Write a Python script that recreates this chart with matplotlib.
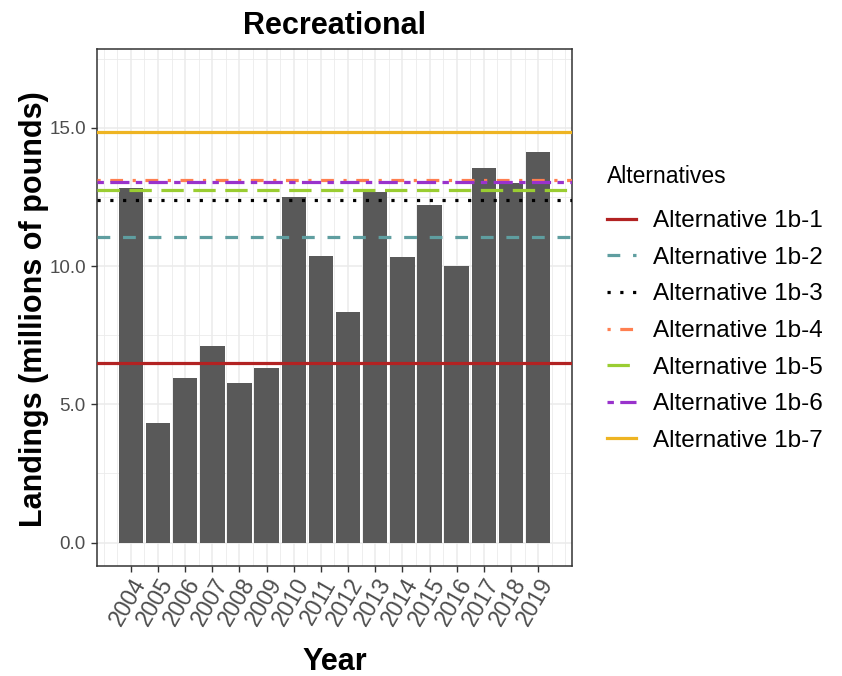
import matplotlib
matplotlib.use("Agg")
import matplotlib.pyplot as plt
import numpy as np

plt.rcParams['font.family'] = ['Liberation Sans', 'DejaVu Sans']

years = [2004, 2005, 2006, 2007, 2008, 2009, 2010, 2011, 2012, 2013, 2014, 2015, 2016, 2017, 2018, 2019]
landings = [12.83, 4.32, 5.95, 7.12, 5.78, 6.30, 12.51, 10.35, 8.33, 12.68, 10.31, 12.21, 10.01, 13.53, 13.01, 14.12]

alt_names = ["Alternative 1b-1", "Alternative 1b-2", "Alternative 1b-3", "Alternative 1b-4",
             "Alternative 1b-5", "Alternative 1b-6", "Alternative 1b-7"]
alt_values = [6.49, 11.06, 12.40, 13.10, 12.75, 13.04, 14.83]
alt_colors = ["#B22222", "#5F9EA0", "#000000", "#FF7F50", "#9ACD32", "#9932CC", "#EEB422"]
alt_styles = ["-", (0, (4, 4)), (0, (1, 3)), (0, (1, 3, 4, 3)), (0, (7, 3)), (0, (2, 2, 6, 2)), "-"]

y_ticks = [0, 5, 10, 15]
y_tick_labels = ["0.0", "5.0", "10.0", "15.0"]

W, H = 842, 676
fig = plt.figure(figsize=(W / 100, H / 100), dpi=100)
ax = fig.add_axes([97 / W, 1 - 566 / H, (572 - 97) / W, (566 - 49) / H])

ax.set_xlim(2002.755, 2020.245)
ax.set_ylim(-0.85, 17.85)

# grid
for xv in np.arange(2003, 2020.01, 0.5):
    major = float(xv).is_integer() and 2004 <= xv <= 2019
    ax.axvline(xv, color="#EBEBEB", lw=1.1 if major else 0.6, zorder=0)
for yv in [0, 2.5, 5, 7.5, 10, 12.5, 15, 17.5]:
    major = yv in y_ticks
    ax.axhline(yv, color="#EBEBEB", lw=1.1 if major else 0.6, zorder=0)

ax.bar(years, landings, width=0.9, color="#595959", zorder=2)

lw = 2.3
for name, v, c, s in zip(alt_names, alt_values, alt_colors, alt_styles):
    ax.axhline(v, color=c, linestyle=s, lw=lw, label=name, zorder=3)

ax.set_xticks(years)
ax.set_xticklabels([str(y) for y in years], rotation=60, ha="right", va="top",
                   rotation_mode="anchor", fontsize=16.5, color="#4D4D4D")
ax.set_yticks(y_ticks)
ax.set_yticklabels(y_tick_labels, fontsize=13.5, color="#4D4D4D")
ax.tick_params(axis="both", length=4, width=1, color="#333333")
ax.tick_params(axis="x", pad=2)
ax.tick_params(axis="y", pad=4)

for sp in ax.spines.values():
    sp.set_color("#333333")
    sp.set_linewidth(1.1)

ax.set_title("Recreational", fontsize=22, fontweight="bold", pad=11)
ax.set_xlabel("Year", fontsize=22, fontweight="bold")
ax.set_ylabel("Landings (millions of pounds)", fontsize=22, fontweight="bold")
ax.xaxis.set_label_coords(0.5, (566 - 647) / 517)
ax.yaxis.set_label_coords((49 - 97) / 475, 0.497)

leg = ax.legend(loc="upper left", bbox_to_anchor=(607 / W, 1 - 165 / H),
                bbox_transform=fig.transFigure, frameon=False,
                title="Alternatives", title_fontsize=16.5, fontsize=17.5,
                handlelength=1.2, handletextpad=0.7, labelspacing=0.6,
                borderaxespad=0, borderpad=0)
leg._legend_box.align = "left"
leg._legend_box.sep = 16

fig.savefig("out.png", dpi=100)
